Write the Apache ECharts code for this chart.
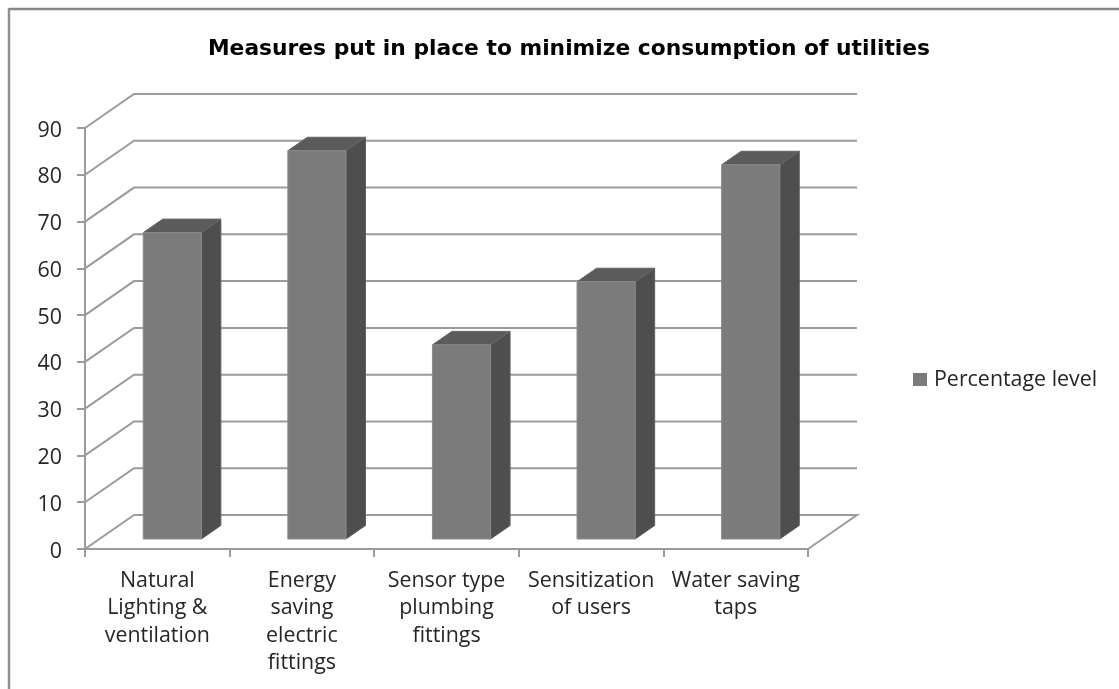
<!DOCTYPE html>
<html>
<head>
<meta charset="utf-8">
<style>html,body{margin:0;padding:0;background:#fff}#chart{width:1119px;height:689px}</style>
<script src="https://cdn.jsdelivr.net/npm/echarts@6/dist/echarts.min.js"></script>
</head>
<body>
<div id="chart"></div>
<script>
const chartTitle = 'Measures put in place to minimize consumption of utilities';
const seriesName = 'Percentage level';
const categories = [
  'Natural\nLighting &\nventilation',
  'Energy\nsaving\nelectric\nfittings',
  'Sensor type\nplumbing\nfittings',
  'Sensitization\nof users',
  'Water saving\ntaps'
];
const percentageLevel = [65.5, 83, 41.5, 55, 80];
const yTicks = [0, 10, 20, 30, 40, 50, 60, 70, 80, 90];

// Oblique projection of the floor depth, in pixels
const DEPTH_X = 49, DEPTH_Y = -34;
// Bars sit part-way back on the floor and have their own shallower depth
const BAR_SHIFT_X = 15, BAR_SHIFT_Y = -10, BAR_DEPTH_X = 19.5, BAR_DEPTH_Y = -13.5;
const BAR_RATIO = 0.402;

const LINE = '#9b9b9b';
const FONT = '"Open Sans", sans-serif';
const TEXT = '#262626';

function renderWall(params, api) {
  const v = api.value(0);
  const p = api.coord([0, v]);
  const band = api.size([1, 0])[0];
  const left = p[0] - band / 2;
  const right = left + band * categories.length;
  const pts = [[left, p[1]], [left + DEPTH_X, p[1] + DEPTH_Y], [right + DEPTH_X, p[1] + DEPTH_Y]];
  if (v === 0) pts.push([right, p[1]]);
  return {
    type: 'polyline',
    shape: { points: pts },
    style: { stroke: LINE, lineWidth: 2, fill: null }
  };
}

function renderBar(params, api) {
  const i = api.value(0);
  const base = api.coord([i, 0]);
  const top = api.coord([i, api.value(1)]);
  const w = api.size([1, 0])[0] * BAR_RATIO;
  const x0 = base[0] - w / 2 + BAR_SHIFT_X;
  const x1 = x0 + w;
  const yB = base[1] + BAR_SHIFT_Y;
  const yT = top[1] + BAR_SHIFT_Y;
  const dx = BAR_DEPTH_X, dy = BAR_DEPTH_Y;
  return {
    type: 'group',
    children: [
      {
        type: 'polygon',
        shape: { points: [[x1, yB], [x1 + dx, yB + dy], [x1 + dx, yT + dy], [x1, yT]] },
        style: { fill: '#4e4e4e', stroke: '#5e5e5e', lineWidth: 1 }
      },
      {
        type: 'polygon',
        shape: { points: [[x0, yT], [x1, yT], [x1 + dx, yT + dy], [x0 + dx, yT + dy]] },
        style: { fill: '#5b5b5b', stroke: '#666666', lineWidth: 1 }
      },
      {
        type: 'rect',
        shape: { x: x0, y: yT, width: w, height: yB - yT },
        style: { fill: '#7b7b7b', stroke: '#8a8a8a', lineWidth: 1 }
      }
    ]
  };
}

const chart = echarts.init(document.getElementById('chart'), null, { renderer: 'canvas' });
chart.setOption({
  animation: false,
  backgroundColor: '#ffffff',
  title: {
    text: chartTitle,
    left: 564,
    top: 33,
    textAlign: 'center',
    textStyle: { fontFamily: '"DejaVu Sans", sans-serif', fontWeight: 'bold', fontSize: 21.8, color: '#000000' }
  },
  legend: {
    data: [{ name: seriesName, icon: 'rect', itemStyle: { color: '#7b7b7b' } }],
    left: 913,
    top: 369,
    padding: 0,
    itemWidth: 14,
    itemHeight: 13,
    itemGap: 0,
    textStyle: { fontFamily: FONT, fontSize: 21.4, color: TEXT, padding: [0, 0, 0, 2] }
  },
  grid: { left: 85, right: 311, top: 128, bottom: 140, containLabel: false },
  xAxis: {
    type: 'category',
    data: categories,
    axisLine: { lineStyle: { color: LINE, width: 2 } },
    axisTick: { show: true, alignWithLabel: false, length: 8, lineStyle: { color: LINE, width: 2 } },
    axisLabel: { interval: 0, fontFamily: FONT, fontSize: 21.4, color: TEXT, lineHeight: 27.5, margin: 18, align: 'center' }
  },
  yAxis: {
    type: 'value',
    min: 0,
    max: 90,
    interval: 10,
    axisLine: { show: true, lineStyle: { color: LINE, width: 2 } },
    axisTick: { show: true, length: 8, lineStyle: { color: LINE, width: 2 } },
    splitLine: { show: false },
    axisLabel: {
      margin: 23,
      formatter: '{v|{value}}',
      rich: { v: { fontFamily: FONT, fontSize: 21.4, color: TEXT, padding: [5, 0, 0, 0] } }
    }
  },
  series: [
    {
      name: 'Back wall',
      type: 'custom',
      silent: true,
      z: 1,
      coordinateSystem: 'cartesian2d',
      clip: false,
      renderItem: renderWall,
      encode: { y: 0 },
      data: yTicks.map(v => [v])
    },
    {
      name: seriesName,
      type: 'custom',
      z: 3,
      coordinateSystem: 'cartesian2d',
      clip: false,
      itemStyle: { color: '#7b7b7b' },
      renderItem: renderBar,
      encode: { x: 0, y: 1 },
      data: percentageLevel.map((v, i) => [i, v])
    }
  ],
  graphic: [
    { type: 'line', silent: true, shape: { x1: 9, y1: 9, x2: 1119, y2: 9 }, style: { stroke: '#868686', lineWidth: 2.4 } },
    { type: 'line', silent: true, shape: { x1: 9, y1: 8, x2: 9, y2: 689 }, style: { stroke: '#8e8e8e', lineWidth: 2.4 } }
  ]
});
</script>
</body>
</html>
